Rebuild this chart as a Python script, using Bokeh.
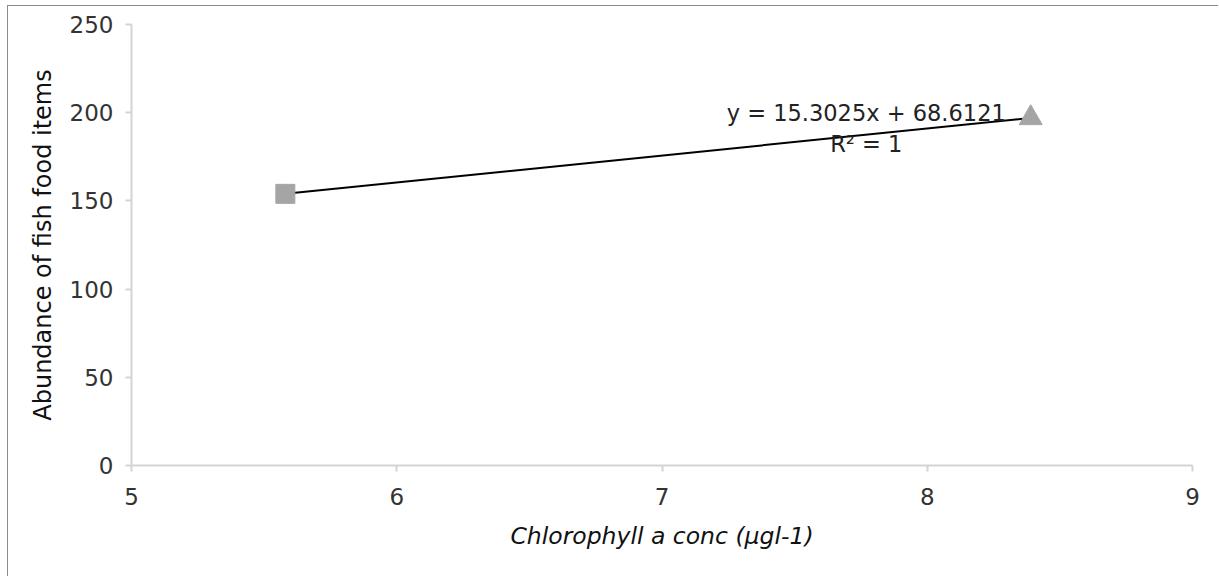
import numpy as np
from bokeh.plotting import figure
from bokeh.models import Range1d, Label, FixedTicker
from bokeh.embed import file_html
from bokeh.resources import INLINE

# Chlorophyll a concentration vs abundance of fish food items
chl_square = [5.58]
abund_square = [154.0]
chl_triangle = [8.39]
abund_triangle = [197.0]

# Linear trendline through the two sites
slope = 15.3025
intercept = 68.6121
r_squared = 1

x_ticks = [5, 6, 7, 8, 9]
y_ticks = [0, 50, 100, 150, 200, 250]

WIDE = "DejaVu Sans"
TEXT = "#333333"
AXIS = "#d4d4d4"
MARKER = "#a5a5a5"

p = figure(width=1211, height=571, output_backend="svg", toolbar_location=None,
           x_range=Range1d(5, 9), y_range=Range1d(0, 250),
           min_border_left=123, min_border_right=27, min_border_top=18,
           min_border_bottom=112)
p.styles = {"margin-left": "7px", "margin-top": "5px",
            "border-left": "1px solid #8c8c8c", "border-top": "1px solid #8c8c8c"}
p.outline_line_color = None
p.xgrid.visible = False
p.ygrid.visible = False
p.background_fill_color = "white"
p.border_fill_color = "white"

for ax in (p.xaxis[0], p.yaxis[0]):
    ax.axis_line_color = AXIS
    ax.axis_line_width = 2
    ax.major_tick_line_color = AXIS
    ax.major_tick_line_width = 2
    ax.major_tick_in = 0
    ax.major_tick_out = 6
    ax.minor_tick_line_color = None
    ax.major_label_text_font = WIDE
    ax.major_label_text_font_size = "23px"
    ax.major_label_text_color = TEXT
    ax.axis_label_text_color = "#111111"
    ax.axis_label_text_font = WIDE

p.xaxis.ticker = FixedTicker(ticks=x_ticks)
p.yaxis.ticker = FixedTicker(ticks=y_ticks)
p.xaxis.axis_label = "Chlorophyll a conc (µgl-1)"
p.xaxis.axis_label_text_font_size = "23.5px"
p.xaxis.axis_label_text_font_style = "italic"
p.yaxis.axis_label = "Abundance of fish food items"
p.yaxis.axis_label_text_font_size = "24px"
p.yaxis.axis_label_text_font_style = "normal"
p.xaxis.major_label_standoff = 16
p.yaxis.major_label_standoff = 12
p.xaxis.axis_label_standoff = 14
p.yaxis.axis_label_standoff = 10

# trendline across the observed range
x_all = np.array(chl_square + chl_triangle)
x_line = np.array([x_all.min(), x_all.max()])
p.line(x_line, slope * x_line + intercept, line_color="black", line_width=2)

p.scatter(chl_square, abund_square, marker="square", size=19,
          fill_color=MARKER, line_color=MARKER)
p.scatter(chl_triangle, abund_triangle, marker="triangle", size=23,
          fill_color=MARKER, line_color=MARKER)

eq_x = 7.77
p.add_layout(Label(x=eq_x, y=200, text=f"y = {slope:.4f}x + {intercept:.4f}",
                   text_align="center", text_baseline="alphabetic",
                   text_font=WIDE, text_font_size="22.5px", text_color="#222222"))
p.add_layout(Label(x=eq_x, y=182.3, text=f"R² = {r_squared}",
                   text_align="center", text_baseline="alphabetic",
                   text_font=WIDE, text_font_size="22.5px", text_color="#222222"))

open("out.html", "w").write(file_html(p, INLINE))
